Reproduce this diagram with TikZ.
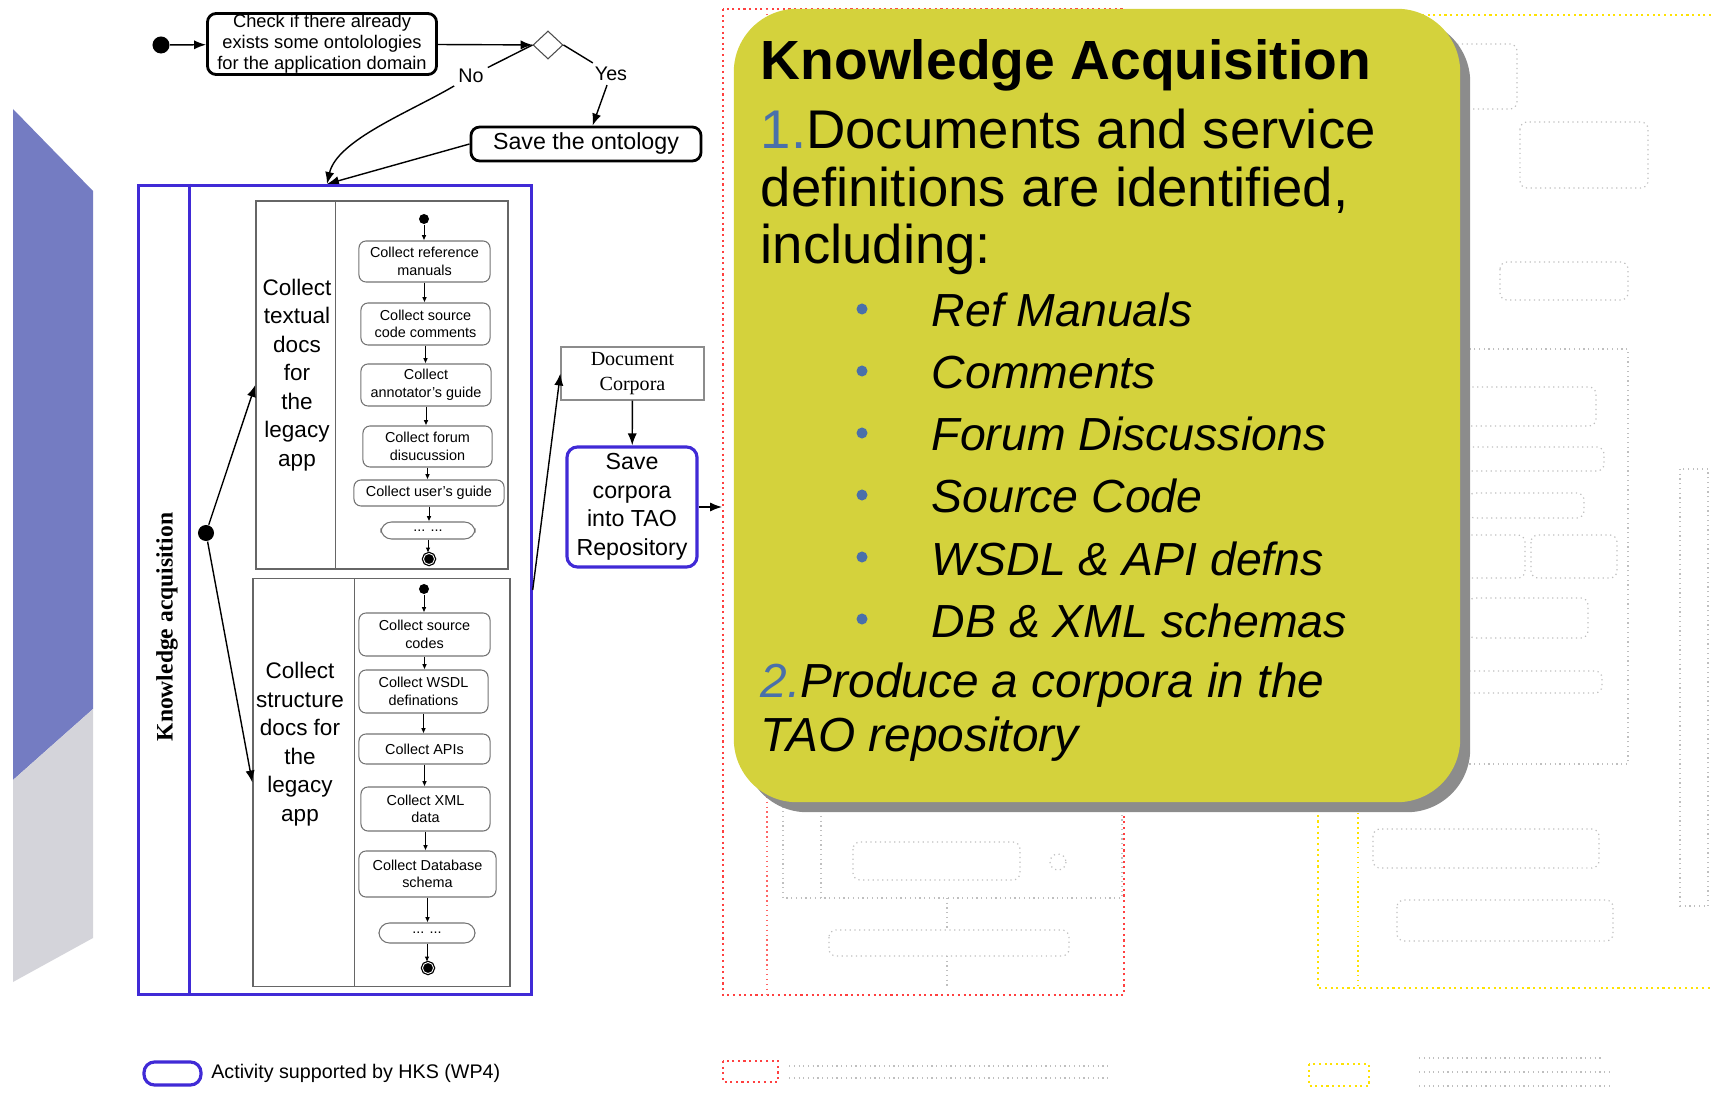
\documentclass[tikz,border=0pt]{standalone}
\usepackage{fontspec}
\setmainfont{Liberation Serif}
\setsansfont{Liberation Sans}
\usepackage{xcolor}
\usepackage{tikz}
\usetikzlibrary{positioning,shapes.geometric,arrows.meta,shadows}

\definecolor{hksblue}{RGB}{64,42,214}
\definecolor{notefill}{RGB}{212,210,60}
\definecolor{numblue}{RGB}{74,112,170}
\definecolor{stripblue}{RGB}{116,124,194}
\definecolor{stripgray}{RGB}{212,212,218}

\tikzset{
  flow/.style={-{Latex[length=3.4pt,width=2.6pt]}, line width=0.4pt},
  tinyflow/.style={-{Latex[length=1.5pt,width=1.3pt]}, line width=0.25pt},
  bigact/.style={draw, rounded corners=2.5pt, line width=0.8pt, inner sep=0pt, align=center},
  act/.style={draw=black!55, rounded corners=2pt, line width=0.3pt, inner sep=0pt, align=center,
    font=\sffamily\fontsize{4.1pt}{5pt}\selectfont},
  lane/.style={draw=black!60, line width=0.35pt, inner sep=0pt},
  lanetext/.style={align=center, inner sep=0pt, font=\sffamily\fontsize{6.4pt}{8.1pt}\selectfont},
  blob/.style={circle, fill=black, inner sep=0pt},
  endblob/.style={circle, fill=black, draw=black, double=white, double distance=0.25pt,
    line width=0.35pt, inner sep=0pt, minimum size=0.11cm},
  faint/.style={draw=black!25, densely dotted, line width=0.35pt},
  notebox/.style={fill=notefill, rounded corners=18pt, inner sep=0pt,
    drop shadow={shadow xshift=0.1cm, shadow yshift=-0.1cm, fill=black!45, opacity=1}},
  notetext/.style={anchor=base west, inner sep=0pt, font=\sffamily\fontsize{15.5pt}{18pt}\selectfont},
  noteitem/.style={anchor=base west, inner sep=0pt, font=\sffamily\itshape\fontsize{13.2pt}{16pt}\selectfont},
}

\begin{document}
\begin{tikzpicture}[x=0.01cm, y=-0.01cm]
\useasboundingbox (0,0) rectangle (1711,1094);

% dithered strip on the left
\fill[stripblue] (13,109) -- (93,191) -- (93,709) -- (13,780) -- cycle;
\fill[stripgray] (13,780) -- (93,709) -- (93,938) -- (13,982) -- cycle;

% faded diagram behind the note
\draw[red!75, densely dotted, line width=0.6pt] (723,9) rectangle (1124,995);
\draw[red!60, densely dotted, line width=0.4pt] (767,9) -- (767,995);
\draw[yellow!85!orange, densely dotted, line width=0.6pt] (1711,15) -- (1318,15) -- (1318,988) -- (1711,988);
\draw[yellow!85!orange, densely dotted, line width=0.4pt] (1358,15) -- (1358,988);
\foreach \xa/\ya/\xb/\yb in {1452/44/1517/109, 1520/122/1648/188, 1500/262/1628/300,
    1462/387/1596/426, 1457/447/1604/471, 1468/493/1584/518, 1462/535/1525/578,
    1531/535/1617/578, 1468/598/1588/638, 1462/671/1602/693, 1373/829/1599/868,
    1397/900/1613/941, 853/842/1020/880, 829/930/1069/956}
  \draw[faint, rounded corners=2pt] (\xa,\ya) rectangle (\xb,\yb);
\draw[faint] (1457,349) rectangle (1628,764);
\draw[faint] (1680,469) rectangle (1708,906);
\draw[faint] (783,797) rectangle (1122,898);
\draw[faint] (821,797) -- (821,898);
\draw[faint] (1058,862) circle (8);
\draw[faint] (947,898) -- (947,930);
\draw[faint] (947,956) -- (947,988);
% faded legend
\draw[red!75, densely dotted, line width=0.6pt] (723,1061) rectangle (778,1082);
\draw[faint] (789,1066) -- (1109,1066);
\draw[faint] (789,1078) -- (1109,1078);
\draw[yellow!85!orange, densely dotted, line width=0.6pt] (1309,1064) rectangle (1369,1086);
\draw[faint] (1419,1058) -- (1603,1058);
\draw[faint] (1419,1072) -- (1610,1072);
\draw[faint] (1419,1086) -- (1610,1086);

% top decision
\node[blob, minimum size=0.17cm] (start) at (161,45) {};
\node[bigact, minimum width=2.29cm, minimum height=0.61cm, font=\sffamily\fontsize{5.2pt}{6pt}\selectfont] (check) at (322,44) {Check if there already\\exists some ontolologies\\for the application domain};
\node[diamond, draw=black!70, line width=0.3pt, minimum width=0.3cm, minimum height=0.28cm, inner sep=0pt] (dec) at (548,45) {};
\node[inner sep=1pt, font=\sffamily\fontsize{5.6pt}{6pt}\selectfont] (yes) at (611,74) {Yes};
\node[inner sep=1pt, font=\sffamily\fontsize{5.6pt}{6pt}\selectfont] (no) at (471,76) {No};
\node[bigact, minimum width=2.30cm, minimum height=0.34cm, font=\sffamily\fontsize{6.6pt}{7pt}\selectfont] (save) at (586,144) {Save the ontology};
\coordinate (merge) at (327,184);

\draw[flow] (start) -- (check);
\draw[flow] (check) -- (dec);
\draw[flow] (dec.east) -- (yes) -- (save);
\draw[flow] (dec.west) -- (no) .. controls (410,112) and (337,140) .. (merge);
\draw[flow] (save.west) -- (merge);

% knowledge acquisition lane
\node[draw=hksblue, line width=0.9pt, minimum width=3.92cm, minimum height=8.09cm, inner sep=0pt] (ka) at (335,590) {};
\draw[hksblue, line width=0.9pt] ([xshift=0.52cm]ka.north west) -- ([xshift=0.52cm]ka.south west);
\node[rotate=90, font=\bfseries\fontsize{6.7pt}{8pt}\selectfont] (kalabel) at (167,627) {Knowledge acquisition};

\node[blob, minimum size=0.16cm] (fork) at (206,533) {};
\node[lane, minimum width=2.52cm, minimum height=3.68cm] (uplane) at (382,385) {};
\draw[lane] ([xshift=0.8cm]uplane.north west) -- ([xshift=0.8cm]uplane.south west);
\node[lanetext] (uptext) at (297,375) {Collect\\textual\\docs\\for\\the\\legacy\\app};
\node[lane, minimum width=2.57cm, minimum height=4.07cm] (lowlane) at (381.5,782.5) {};
\draw[lane] ([xshift=1.02cm]lowlane.north west) -- ([xshift=1.02cm]lowlane.south west);
\node[lanetext] (lowtext) at (300,744) {Collect\\structure\\docs for\\the\\legacy\\app};

\draw[flow] (fork) -- (uplane.west);
\draw[flow] (fork) -- (lowlane.west);

% textual docs
\node[blob, minimum size=0.1cm] (ustart) at (424,219) {};
\node[act, minimum width=1.31cm, minimum height=0.41cm] (refman) at (424.5,261.5) {Collect reference\\manuals};
\node[act, minimum width=1.29cm, minimum height=0.42cm] (srccom) at (425.5,324) {Collect source\\code comments};
\node[act, minimum width=1.30cm, minimum height=0.42cm] (annot) at (426,385) {Collect\\annotator's guide};
\node[act, minimum width=1.29cm, minimum height=0.41cm] (forum) at (427.5,446.5) {Collect forum\\disucussion};
\node[act, minimum width=1.50cm, minimum height=0.26cm] (usrguide) at (429,493) {Collect user's guide};
\node[act, minimum width=0.94cm, minimum height=0.17cm, rounded corners=3pt] (umore) at (428,530.5) {... ...};
\node[endblob] (uend) at (429,559) {};
\foreach \a/\b in {ustart/refman, refman/srccom, srccom/annot, annot/forum, forum/usrguide, usrguide/umore, umore/uend}
  \draw[tinyflow] (\a.south) -- (\a.south |- \b.north);

% structure docs
\node[blob, minimum size=0.1cm] (lstart) at (424,589) {};
\node[act, minimum width=1.31cm, minimum height=0.43cm] (srccode) at (424.5,634.5) {Collect source\\codes};
\node[act, minimum width=1.29cm, minimum height=0.43cm] (wsdl) at (423.5,691.5) {Collect WSDL\\definations};
\node[act, minimum width=1.31cm, minimum height=0.30cm] (apis) at (424.5,749) {Collect APIs};
\node[act, minimum width=1.29cm, minimum height=0.44cm] (xml) at (425.5,809) {Collect XML\\data};
\node[act, minimum width=1.37cm, minimum height=0.46cm] (dbschema) at (427.5,874) {Collect Database\\schema};
\node[act, minimum width=0.96cm, minimum height=0.20cm, rounded corners=3pt] (lmore) at (427,933) {... ...};
\node[endblob] (lend) at (428,968) {};
\foreach \a/\b in {lstart/srccode, srccode/wsdl, wsdl/apis, apis/xml, xml/dbschema, dbschema/lmore, lmore/lend}
  \draw[tinyflow] (\a.south) -- (\a.south |- \b.north);

% corpora
\node[draw=black!45, line width=0.35pt, minimum width=1.43cm, minimum height=0.53cm, inner sep=0pt, align=center, font=\fontsize{5.7pt}{7.1pt}\selectfont] (corpora) at (632.5,373.5) {Document\\Corpora};
\node[draw=hksblue, line width=0.9pt, rounded corners=3pt, minimum width=1.30cm, minimum height=1.20cm, inner sep=0pt, align=center, font=\sffamily\fontsize{6.6pt}{8.1pt}\selectfont] (savecorp) at (632,507) {Save\\corpora\\into TAO\\Repository};
\coordinate (handoff) at (722,507);
\draw[flow] (ka.east) -- (corpora.west);
\draw[flow] (corpora) -- (savecorp);
\draw[flow] (savecorp) -- (handoff);

% legend
\node[draw=hksblue, line width=0.9pt, rounded corners=3pt, minimum width=0.57cm, minimum height=0.23cm, inner sep=0pt] (legkey) at (172.5,1073.5) {};
\node[right=0.08cm of legkey, inner sep=0pt, font=\sffamily\fontsize{5.6pt}{6pt}\selectfont] (legtext) {Activity supported by HKS (WP4)};

% the note
\node[notebox, minimum width=7.26cm, minimum height=7.93cm] (note) at (1097,405.5) {};
\node[notetext, font=\sffamily\bfseries\fontsize{15.7pt}{18pt}\selectfont] (notetitle) at (760,80) {Knowledge Acquisition};
\node[notetext] (step1a) at (760,149) {\textcolor{numblue}{1.}Documents and service};
\node[notetext] (step1b) at (760,207) {definitions are identified,};
\node[notetext] (step1c) at (760,264) {including:};
\foreach \txt [count=\i] in {Ref Manuals, Comments, Forum Discussions, Source Code, WSDL \& API defns, DB \& XML schemas} {
  \node[circle, fill=numblue, inner sep=0pt, minimum size=0.11cm] (dot\i) at (862,{309+62*(\i-1)}) {};
  \node[noteitem] (item\i) at (931,{327+62*(\i-1)}) {\txt};
}
\node[noteitem, font=\sffamily\itshape\fontsize{13.6pt}{16pt}\selectfont] (step2a) at (760,697) {\textcolor{numblue}{2.}Produce a corpora in the};
\node[noteitem, font=\sffamily\itshape\fontsize{13.6pt}{16pt}\selectfont] (step2b) at (760,751) {TAO repository};
\end{tikzpicture}
\end{document}
